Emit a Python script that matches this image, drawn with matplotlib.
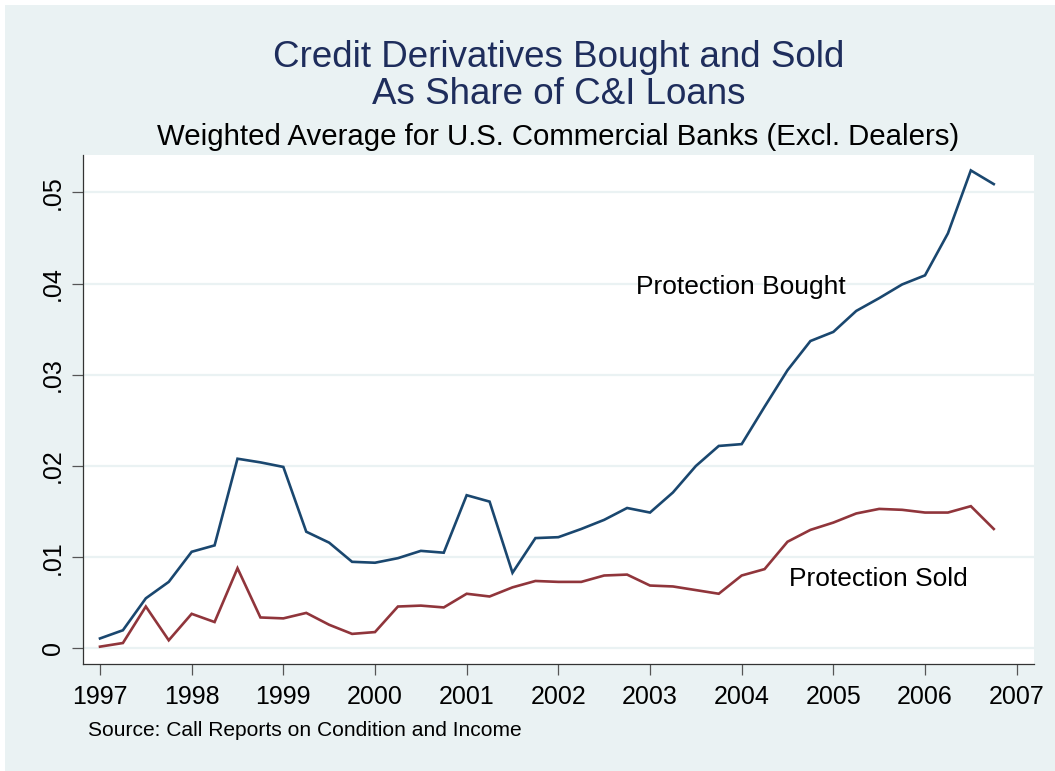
import matplotlib
matplotlib.use("Agg")
import matplotlib.pyplot as plt
import numpy as np

plt.rcParams['font.family'] = ['Liberation Sans', 'DejaVu Sans']

# Quarterly data 1997Q1 - 2006Q4
quarters = [1997 + q * 0.25 for q in range(40)]
bought = [0.0011, 0.0020, 0.0055, 0.0073, 0.0106, 0.0113, 0.0208, 0.0204, 0.0199, 0.0128,
          0.0116, 0.0095, 0.0094, 0.0099, 0.0107, 0.0105, 0.0168, 0.0161, 0.0083, 0.0121,
          0.0122, 0.0131, 0.0141, 0.0154, 0.0149, 0.0171, 0.0200, 0.0222, 0.0224, 0.0265,
          0.0305, 0.0337, 0.0347, 0.0370, 0.0384, 0.0399, 0.0409, 0.0455, 0.0524, 0.0509]
sold = [0.0002, 0.0006, 0.0046, 0.0009, 0.0038, 0.0029, 0.0088, 0.0034, 0.0033, 0.0039,
        0.0026, 0.0016, 0.0018, 0.0046, 0.0047, 0.0045, 0.0060, 0.0057, 0.0067, 0.0074,
        0.0073, 0.0073, 0.0080, 0.0081, 0.0069, 0.0068, 0.0064, 0.0060, 0.0080, 0.0087,
        0.0117, 0.0130, 0.0138, 0.0148, 0.0153, 0.0152, 0.0149, 0.0149, 0.0156, 0.0131]
xticks = list(range(1997, 2008))
yticks = [0, 0.01, 0.02, 0.03, 0.04, 0.05]
ytick_labels = ['0', '.01', '.02', '.03', '.04', '.05']

W, H = 1055, 771
fig = plt.figure(figsize=(W / 100, H / 100), dpi=100)
fig.patch.set_facecolor('white')
bg = '#EAF2F3'
fig.patches.append(plt.Rectangle((5 / W, 0), 1 - 5 / W, 1 - 5 / H, transform=fig.transFigure,
                                 facecolor=bg, edgecolor='none', zorder=-10))

def fx(px):
    return px / W

def fy(py):
    return 1 - py / H

ax = fig.add_axes([fx(83), fy(664), fx(1034) - fx(83), fy(155) - fy(664)])
ax.set_facecolor('white')

navy = '#1A476F'
maroon = '#90353B'
ax.plot(quarters, bought, color=navy, lw=1.9, solid_joinstyle='miter', zorder=3)
ax.plot(quarters, sold, color=maroon, lw=1.9, solid_joinstyle='miter', zorder=3)

ax.set_xlim(1996.8146, 2007.189)
ax.set_ylim(-0.0017, 0.05409)

ax.set_xticks(xticks)
ax.set_xticklabels([str(x) for x in xticks], fontsize=18)
ax.set_yticks(yticks)
ax.set_yticklabels(ytick_labels, fontsize=18, rotation=90, va='center')

ax.yaxis.grid(True, color=bg, lw=1.6, zorder=1)
ax.set_axisbelow(True)

for s in ['top', 'right']:
    ax.spines[s].set_visible(False)
for s in ['left', 'bottom']:
    ax.spines[s].set_color('#333333')
    ax.spines[s].set_linewidth(0.9)
ax.tick_params(axis='both', direction='out', length=8, width=0.9, color='#555555',
               labelcolor='black')
ax.tick_params(axis='x', pad=7)
ax.tick_params(axis='y', pad=5)

ax.text(2002.847, 0.03882, 'Protection Bought', fontsize=19, va='baseline', ha='left')
ax.text(2004.516, 0.00685, 'Protection Sold', fontsize=19, va='baseline', ha='left')

cx = fx((83 + 1034) / 2)
title_color = '#1E2D5C'
fig.text(cx, fy(66.7), 'Credit Derivatives Bought and Sold', fontsize=26.5,
         color=title_color, ha='center', va='baseline')
fig.text(cx, fy(103.5), 'As Share of C&I Loans', fontsize=26.5,
         color=title_color, ha='center', va='baseline')
fig.text(cx, fy(145), 'Weighted Average for U.S. Commercial Banks (Excl. Dealers)',
         fontsize=21.2, color='black', ha='center', va='baseline')
fig.text(fx(88), fy(736), 'Source: Call Reports on Condition and Income', fontsize=15.1,
         color='black', ha='left', va='baseline')

fig.savefig('out.png', dpi=100, facecolor=fig.get_facecolor())
